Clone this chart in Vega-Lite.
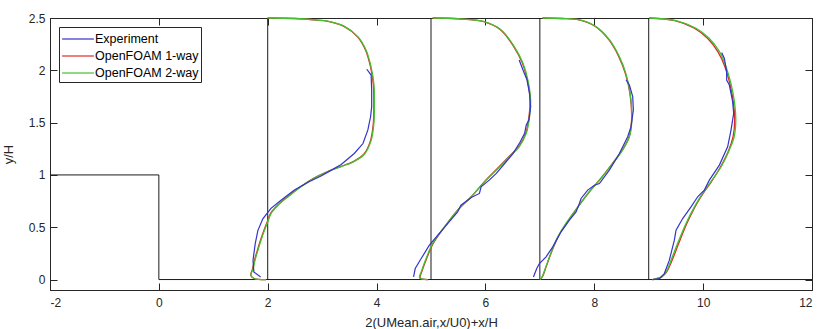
{
  "$schema": "https://vega.github.io/schema/vega-lite/v6.json",
  "width": 762,
  "height": 272,
  "autosize": {"type": "none"},
  "padding": {"left": 50, "top": 18, "right": 8, "bottom": 39},
  "background": "white",
  "config": {
    "view": {"stroke": "#262626", "strokeWidth": 1},
    "font": "Liberation Sans",
    "axis": {
      "domainColor": "#262626",
      "domainWidth": 1,
      "tickColor": "#262626",
      "tickSize": -7,
      "tickWidth": 1,
      "labelColor": "#262626",
      "labelFont": "Liberation Sans",
      "labelFontSize": 12,
      "titleFont": "Liberation Sans",
      "titleFontSize": 13,
      "titleFontWeight": "normal",
      "titleColor": "#262626",
      "grid": false
    },
    "legend": {
      "orient": "top-left",
      "offset": 9,
      "padding": 2,
      "strokeColor": "#262626",
      "fillColor": "white",
      "symbolType": "M-1.75,0H1.75",
      "symbolSize": 330,
      "symbolOffset": 7,
      "symbolStrokeWidth": 1.2,
      "labelFont": "Liberation Sans",
      "labelFontSize": 12.5,
      "labelColor": "black",
      "labelOffset": 7,
      "rowPadding": 0
    }
  },
  "datasets": {
    "profiles": [
      {"s": "OpenFOAM 1-way", "p": "a", "x": 2.0, "y": 2.5},
      {"s": "OpenFOAM 1-way", "p": "a", "x": 2.5, "y": 2.495},
      {"s": "OpenFOAM 1-way", "p": "a", "x": 2.9, "y": 2.48},
      {"s": "OpenFOAM 1-way", "p": "a", "x": 3.09, "y": 2.47},
      {"s": "OpenFOAM 1-way", "p": "a", "x": 3.4, "y": 2.42},
      {"s": "OpenFOAM 1-way", "p": "a", "x": 3.65, "y": 2.32},
      {"s": "OpenFOAM 1-way", "p": "a", "x": 3.8, "y": 2.19},
      {"s": "OpenFOAM 1-way", "p": "a", "x": 3.89, "y": 2.03},
      {"s": "OpenFOAM 1-way", "p": "a", "x": 3.94, "y": 1.87},
      {"s": "OpenFOAM 1-way", "p": "a", "x": 3.95, "y": 1.68},
      {"s": "OpenFOAM 1-way", "p": "a", "x": 3.94, "y": 1.49},
      {"s": "OpenFOAM 1-way", "p": "a", "x": 3.89, "y": 1.33},
      {"s": "OpenFOAM 1-way", "p": "a", "x": 3.77, "y": 1.2},
      {"s": "OpenFOAM 1-way", "p": "a", "x": 3.58, "y": 1.13},
      {"s": "OpenFOAM 1-way", "p": "a", "x": 3.34, "y": 1.08},
      {"s": "OpenFOAM 1-way", "p": "a", "x": 3.09, "y": 1.03},
      {"s": "OpenFOAM 1-way", "p": "a", "x": 2.85, "y": 0.97},
      {"s": "OpenFOAM 1-way", "p": "a", "x": 2.61, "y": 0.89},
      {"s": "OpenFOAM 1-way", "p": "a", "x": 2.36, "y": 0.79},
      {"s": "OpenFOAM 1-way", "p": "a", "x": 2.18, "y": 0.71},
      {"s": "OpenFOAM 1-way", "p": "a", "x": 2.05, "y": 0.63},
      {"s": "OpenFOAM 1-way", "p": "a", "x": 1.99, "y": 0.55},
      {"s": "OpenFOAM 1-way", "p": "a", "x": 1.93, "y": 0.47},
      {"s": "OpenFOAM 1-way", "p": "a", "x": 1.87, "y": 0.38},
      {"s": "OpenFOAM 1-way", "p": "a", "x": 1.81, "y": 0.28},
      {"s": "OpenFOAM 1-way", "p": "a", "x": 1.76, "y": 0.19},
      {"s": "OpenFOAM 1-way", "p": "a", "x": 1.72, "y": 0.1},
      {"s": "OpenFOAM 1-way", "p": "a", "x": 1.69, "y": 0.04},
      {"s": "OpenFOAM 1-way", "p": "a", "x": 1.75, "y": 0.01},
      {"s": "OpenFOAM 1-way", "p": "a", "x": 1.97, "y": 0.0},

      {"s": "OpenFOAM 1-way", "p": "b", "x": 5.03, "y": 2.5},
      {"s": "OpenFOAM 1-way", "p": "b", "x": 5.5, "y": 2.493},
      {"s": "OpenFOAM 1-way", "p": "b", "x": 5.97, "y": 2.465},
      {"s": "OpenFOAM 1-way", "p": "b", "x": 6.28, "y": 2.386},
      {"s": "OpenFOAM 1-way", "p": "b", "x": 6.52, "y": 2.226},
      {"s": "OpenFOAM 1-way", "p": "b", "x": 6.68, "y": 2.067},
      {"s": "OpenFOAM 1-way", "p": "b", "x": 6.77, "y": 1.907},
      {"s": "OpenFOAM 1-way", "p": "b", "x": 6.82, "y": 1.716},
      {"s": "OpenFOAM 1-way", "p": "b", "x": 6.8, "y": 1.556},
      {"s": "OpenFOAM 1-way", "p": "b", "x": 6.74, "y": 1.397},
      {"s": "OpenFOAM 1-way", "p": "b", "x": 6.61, "y": 1.269},
      {"s": "OpenFOAM 1-way", "p": "b", "x": 6.43, "y": 1.174},
      {"s": "OpenFOAM 1-way", "p": "b", "x": 6.22, "y": 1.062},
      {"s": "OpenFOAM 1-way", "p": "b", "x": 5.98, "y": 0.934},
      {"s": "OpenFOAM 1-way", "p": "b", "x": 5.74, "y": 0.791},
      {"s": "OpenFOAM 1-way", "p": "b", "x": 5.49, "y": 0.663},
      {"s": "OpenFOAM 1-way", "p": "b", "x": 5.25, "y": 0.504},
      {"s": "OpenFOAM 1-way", "p": "b", "x": 5.04, "y": 0.344},
      {"s": "OpenFOAM 1-way", "p": "b", "x": 4.92, "y": 0.201},
      {"s": "OpenFOAM 1-way", "p": "b", "x": 4.83, "y": 0.073},
      {"s": "OpenFOAM 1-way", "p": "b", "x": 4.8, "y": 0.016},
      {"s": "OpenFOAM 1-way", "p": "b", "x": 4.94, "y": 0.0},

      {"s": "OpenFOAM 1-way", "p": "c", "x": 7.05, "y": 2.5},
      {"s": "OpenFOAM 1-way", "p": "c", "x": 7.4, "y": 2.495},
      {"s": "OpenFOAM 1-way", "p": "c", "x": 7.72, "y": 2.481},
      {"s": "OpenFOAM 1-way", "p": "c", "x": 8.02, "y": 2.418},
      {"s": "OpenFOAM 1-way", "p": "c", "x": 8.27, "y": 2.29},
      {"s": "OpenFOAM 1-way", "p": "c", "x": 8.45, "y": 2.131},
      {"s": "OpenFOAM 1-way", "p": "c", "x": 8.57, "y": 1.971},
      {"s": "OpenFOAM 1-way", "p": "c", "x": 8.655, "y": 1.78},
      {"s": "OpenFOAM 1-way", "p": "c", "x": 8.685, "y": 1.524},
      {"s": "OpenFOAM 1-way", "p": "c", "x": 8.64, "y": 1.365},
      {"s": "OpenFOAM 1-way", "p": "c", "x": 8.515, "y": 1.237},
      {"s": "OpenFOAM 1-way", "p": "c", "x": 8.335, "y": 1.11},
      {"s": "OpenFOAM 1-way", "p": "c", "x": 8.12, "y": 0.966},
      {"s": "OpenFOAM 1-way", "p": "c", "x": 7.91, "y": 0.839},
      {"s": "OpenFOAM 1-way", "p": "c", "x": 7.7, "y": 0.695},
      {"s": "OpenFOAM 1-way", "p": "c", "x": 7.485, "y": 0.536},
      {"s": "OpenFOAM 1-way", "p": "c", "x": 7.335, "y": 0.408},
      {"s": "OpenFOAM 1-way", "p": "c", "x": 7.215, "y": 0.264},
      {"s": "OpenFOAM 1-way", "p": "c", "x": 7.115, "y": 0.121},
      {"s": "OpenFOAM 1-way", "p": "c", "x": 7.045, "y": 0.025},
      {"s": "OpenFOAM 1-way", "p": "c", "x": 7.0, "y": 0.0},

      {"s": "OpenFOAM 1-way", "p": "d", "x": 9.01, "y": 2.5},
      {"s": "OpenFOAM 1-way", "p": "d", "x": 9.48, "y": 2.475},
      {"s": "OpenFOAM 1-way", "p": "d", "x": 9.84, "y": 2.402},
      {"s": "OpenFOAM 1-way", "p": "d", "x": 10.08, "y": 2.306},
      {"s": "OpenFOAM 1-way", "p": "d", "x": 10.27, "y": 2.178},
      {"s": "OpenFOAM 1-way", "p": "d", "x": 10.4, "y": 2.035},
      {"s": "OpenFOAM 1-way", "p": "d", "x": 10.49, "y": 1.875},
      {"s": "OpenFOAM 1-way", "p": "d", "x": 10.55, "y": 1.716},
      {"s": "OpenFOAM 1-way", "p": "d", "x": 10.58, "y": 1.524},
      {"s": "OpenFOAM 1-way", "p": "d", "x": 10.55, "y": 1.365},
      {"s": "OpenFOAM 1-way", "p": "d", "x": 10.47, "y": 1.237},
      {"s": "OpenFOAM 1-way", "p": "d", "x": 10.32, "y": 1.078},
      {"s": "OpenFOAM 1-way", "p": "d", "x": 10.15, "y": 0.934},
      {"s": "OpenFOAM 1-way", "p": "d", "x": 10.0, "y": 0.823},
      {"s": "OpenFOAM 1-way", "p": "d", "x": 9.85, "y": 0.695},
      {"s": "OpenFOAM 1-way", "p": "d", "x": 9.7, "y": 0.536},
      {"s": "OpenFOAM 1-way", "p": "d", "x": 9.55, "y": 0.344},
      {"s": "OpenFOAM 1-way", "p": "d", "x": 9.43, "y": 0.185},
      {"s": "OpenFOAM 1-way", "p": "d", "x": 9.33, "y": 0.073},
      {"s": "OpenFOAM 1-way", "p": "d", "x": 9.24, "y": 0.025},
      {"s": "OpenFOAM 1-way", "p": "d", "x": 9.07, "y": 0.0},

      {"s": "OpenFOAM 2-way", "p": "a", "x": 2.0, "y": 2.5},
      {"s": "OpenFOAM 2-way", "p": "a", "x": 2.5, "y": 2.495},
      {"s": "OpenFOAM 2-way", "p": "a", "x": 2.92, "y": 2.48},
      {"s": "OpenFOAM 2-way", "p": "a", "x": 3.1, "y": 2.47},
      {"s": "OpenFOAM 2-way", "p": "a", "x": 3.41, "y": 2.42},
      {"s": "OpenFOAM 2-way", "p": "a", "x": 3.66, "y": 2.32},
      {"s": "OpenFOAM 2-way", "p": "a", "x": 3.81, "y": 2.19},
      {"s": "OpenFOAM 2-way", "p": "a", "x": 3.9, "y": 2.03},
      {"s": "OpenFOAM 2-way", "p": "a", "x": 3.95, "y": 1.87},
      {"s": "OpenFOAM 2-way", "p": "a", "x": 3.96, "y": 1.68},
      {"s": "OpenFOAM 2-way", "p": "a", "x": 3.95, "y": 1.49},
      {"s": "OpenFOAM 2-way", "p": "a", "x": 3.9, "y": 1.33},
      {"s": "OpenFOAM 2-way", "p": "a", "x": 3.78, "y": 1.2},
      {"s": "OpenFOAM 2-way", "p": "a", "x": 3.59, "y": 1.13},
      {"s": "OpenFOAM 2-way", "p": "a", "x": 3.35, "y": 1.08},
      {"s": "OpenFOAM 2-way", "p": "a", "x": 3.1, "y": 1.03},
      {"s": "OpenFOAM 2-way", "p": "a", "x": 2.86, "y": 0.97},
      {"s": "OpenFOAM 2-way", "p": "a", "x": 2.62, "y": 0.89},
      {"s": "OpenFOAM 2-way", "p": "a", "x": 2.37, "y": 0.79},
      {"s": "OpenFOAM 2-way", "p": "a", "x": 2.19, "y": 0.71},
      {"s": "OpenFOAM 2-way", "p": "a", "x": 2.06, "y": 0.63},
      {"s": "OpenFOAM 2-way", "p": "a", "x": 2.0, "y": 0.55},
      {"s": "OpenFOAM 2-way", "p": "a", "x": 1.94, "y": 0.47},
      {"s": "OpenFOAM 2-way", "p": "a", "x": 1.88, "y": 0.38},
      {"s": "OpenFOAM 2-way", "p": "a", "x": 1.82, "y": 0.28},
      {"s": "OpenFOAM 2-way", "p": "a", "x": 1.77, "y": 0.19},
      {"s": "OpenFOAM 2-way", "p": "a", "x": 1.73, "y": 0.1},
      {"s": "OpenFOAM 2-way", "p": "a", "x": 1.69, "y": 0.04},
      {"s": "OpenFOAM 2-way", "p": "a", "x": 1.75, "y": 0.01},
      {"s": "OpenFOAM 2-way", "p": "a", "x": 1.97, "y": 0.0},

      {"s": "OpenFOAM 2-way", "p": "b", "x": 5.03, "y": 2.5},
      {"s": "OpenFOAM 2-way", "p": "b", "x": 5.5, "y": 2.493},
      {"s": "OpenFOAM 2-way", "p": "b", "x": 5.98, "y": 2.465},
      {"s": "OpenFOAM 2-way", "p": "b", "x": 6.29, "y": 2.386},
      {"s": "OpenFOAM 2-way", "p": "b", "x": 6.53, "y": 2.226},
      {"s": "OpenFOAM 2-way", "p": "b", "x": 6.69, "y": 2.067},
      {"s": "OpenFOAM 2-way", "p": "b", "x": 6.78, "y": 1.907},
      {"s": "OpenFOAM 2-way", "p": "b", "x": 6.83, "y": 1.716},
      {"s": "OpenFOAM 2-way", "p": "b", "x": 6.81, "y": 1.556},
      {"s": "OpenFOAM 2-way", "p": "b", "x": 6.75, "y": 1.397},
      {"s": "OpenFOAM 2-way", "p": "b", "x": 6.62, "y": 1.269},
      {"s": "OpenFOAM 2-way", "p": "b", "x": 6.44, "y": 1.174},
      {"s": "OpenFOAM 2-way", "p": "b", "x": 6.23, "y": 1.062},
      {"s": "OpenFOAM 2-way", "p": "b", "x": 5.98, "y": 0.934},
      {"s": "OpenFOAM 2-way", "p": "b", "x": 5.74, "y": 0.791},
      {"s": "OpenFOAM 2-way", "p": "b", "x": 5.49, "y": 0.663},
      {"s": "OpenFOAM 2-way", "p": "b", "x": 5.25, "y": 0.504},
      {"s": "OpenFOAM 2-way", "p": "b", "x": 5.03, "y": 0.344},
      {"s": "OpenFOAM 2-way", "p": "b", "x": 4.91, "y": 0.201},
      {"s": "OpenFOAM 2-way", "p": "b", "x": 4.82, "y": 0.073},
      {"s": "OpenFOAM 2-way", "p": "b", "x": 4.79, "y": 0.016},
      {"s": "OpenFOAM 2-way", "p": "b", "x": 4.94, "y": 0.0},

      {"s": "OpenFOAM 2-way", "p": "c", "x": 7.05, "y": 2.5},
      {"s": "OpenFOAM 2-way", "p": "c", "x": 7.4, "y": 2.495},
      {"s": "OpenFOAM 2-way", "p": "c", "x": 7.73, "y": 2.481},
      {"s": "OpenFOAM 2-way", "p": "c", "x": 8.03, "y": 2.418},
      {"s": "OpenFOAM 2-way", "p": "c", "x": 8.28, "y": 2.29},
      {"s": "OpenFOAM 2-way", "p": "c", "x": 8.46, "y": 2.131},
      {"s": "OpenFOAM 2-way", "p": "c", "x": 8.58, "y": 1.971},
      {"s": "OpenFOAM 2-way", "p": "c", "x": 8.66, "y": 1.78},
      {"s": "OpenFOAM 2-way", "p": "c", "x": 8.69, "y": 1.524},
      {"s": "OpenFOAM 2-way", "p": "c", "x": 8.645, "y": 1.365},
      {"s": "OpenFOAM 2-way", "p": "c", "x": 8.52, "y": 1.237},
      {"s": "OpenFOAM 2-way", "p": "c", "x": 8.34, "y": 1.11},
      {"s": "OpenFOAM 2-way", "p": "c", "x": 8.12, "y": 0.966},
      {"s": "OpenFOAM 2-way", "p": "c", "x": 7.91, "y": 0.839},
      {"s": "OpenFOAM 2-way", "p": "c", "x": 7.7, "y": 0.695},
      {"s": "OpenFOAM 2-way", "p": "c", "x": 7.48, "y": 0.536},
      {"s": "OpenFOAM 2-way", "p": "c", "x": 7.33, "y": 0.408},
      {"s": "OpenFOAM 2-way", "p": "c", "x": 7.21, "y": 0.264},
      {"s": "OpenFOAM 2-way", "p": "c", "x": 7.11, "y": 0.121},
      {"s": "OpenFOAM 2-way", "p": "c", "x": 7.04, "y": 0.025},
      {"s": "OpenFOAM 2-way", "p": "c", "x": 7.0, "y": 0.0},

      {"s": "OpenFOAM 2-way", "p": "d", "x": 9.01, "y": 2.5},
      {"s": "OpenFOAM 2-way", "p": "d", "x": 9.5, "y": 2.475},
      {"s": "OpenFOAM 2-way", "p": "d", "x": 9.87, "y": 2.402},
      {"s": "OpenFOAM 2-way", "p": "d", "x": 10.11, "y": 2.306},
      {"s": "OpenFOAM 2-way", "p": "d", "x": 10.3, "y": 2.178},
      {"s": "OpenFOAM 2-way", "p": "d", "x": 10.42, "y": 2.035},
      {"s": "OpenFOAM 2-way", "p": "d", "x": 10.51, "y": 1.875},
      {"s": "OpenFOAM 2-way", "p": "d", "x": 10.57, "y": 1.716},
      {"s": "OpenFOAM 2-way", "p": "d", "x": 10.6, "y": 1.524},
      {"s": "OpenFOAM 2-way", "p": "d", "x": 10.57, "y": 1.365},
      {"s": "OpenFOAM 2-way", "p": "d", "x": 10.48, "y": 1.237},
      {"s": "OpenFOAM 2-way", "p": "d", "x": 10.33, "y": 1.078},
      {"s": "OpenFOAM 2-way", "p": "d", "x": 10.14, "y": 0.934},
      {"s": "OpenFOAM 2-way", "p": "d", "x": 9.99, "y": 0.823},
      {"s": "OpenFOAM 2-way", "p": "d", "x": 9.84, "y": 0.695},
      {"s": "OpenFOAM 2-way", "p": "d", "x": 9.685, "y": 0.536},
      {"s": "OpenFOAM 2-way", "p": "d", "x": 9.53, "y": 0.344},
      {"s": "OpenFOAM 2-way", "p": "d", "x": 9.41, "y": 0.185},
      {"s": "OpenFOAM 2-way", "p": "d", "x": 9.32, "y": 0.073},
      {"s": "OpenFOAM 2-way", "p": "d", "x": 9.23, "y": 0.025},
      {"s": "OpenFOAM 2-way", "p": "d", "x": 9.07, "y": 0.0},

      {"s": "Experiment", "p": "a", "x": 3.82, "y": 2.01},
      {"s": "Experiment", "p": "a", "x": 3.9, "y": 1.955},
      {"s": "Experiment", "p": "a", "x": 3.91, "y": 1.81},
      {"s": "Experiment", "p": "a", "x": 3.91, "y": 1.65},
      {"s": "Experiment", "p": "a", "x": 3.89, "y": 1.556},
      {"s": "Experiment", "p": "a", "x": 3.84, "y": 1.43},
      {"s": "Experiment", "p": "a", "x": 3.75, "y": 1.3},
      {"s": "Experiment", "p": "a", "x": 3.59, "y": 1.205},
      {"s": "Experiment", "p": "a", "x": 3.35, "y": 1.1},
      {"s": "Experiment", "p": "a", "x": 3.17, "y": 1.046},
      {"s": "Experiment", "p": "a", "x": 2.98, "y": 0.99},
      {"s": "Experiment", "p": "a", "x": 2.74, "y": 0.93},
      {"s": "Experiment", "p": "a", "x": 2.49, "y": 0.855},
      {"s": "Experiment", "p": "a", "x": 2.25, "y": 0.76},
      {"s": "Experiment", "p": "a", "x": 2.06, "y": 0.68},
      {"s": "Experiment", "p": "a", "x": 1.91, "y": 0.58},
      {"s": "Experiment", "p": "a", "x": 1.82, "y": 0.47},
      {"s": "Experiment", "p": "a", "x": 1.77, "y": 0.34},
      {"s": "Experiment", "p": "a", "x": 1.73, "y": 0.185},
      {"s": "Experiment", "p": "a", "x": 1.745, "y": 0.073},
      {"s": "Experiment", "p": "a", "x": 1.87, "y": 0.025},

      {"s": "Experiment", "p": "b", "x": 6.62, "y": 2.099},
      {"s": "Experiment", "p": "b", "x": 6.69, "y": 2.003},
      {"s": "Experiment", "p": "b", "x": 6.765, "y": 1.907},
      {"s": "Experiment", "p": "b", "x": 6.81, "y": 1.78},
      {"s": "Experiment", "p": "b", "x": 6.83, "y": 1.652},
      {"s": "Experiment", "p": "b", "x": 6.8, "y": 1.524},
      {"s": "Experiment", "p": "b", "x": 6.75, "y": 1.477},
      {"s": "Experiment", "p": "b", "x": 6.72, "y": 1.397},
      {"s": "Experiment", "p": "b", "x": 6.64, "y": 1.317},
      {"s": "Experiment", "p": "b", "x": 6.5, "y": 1.199},
      {"s": "Experiment", "p": "b", "x": 6.38, "y": 1.126},
      {"s": "Experiment", "p": "b", "x": 6.2, "y": 1.014},
      {"s": "Experiment", "p": "b", "x": 6.07, "y": 0.95},
      {"s": "Experiment", "p": "b", "x": 5.92, "y": 0.886},
      {"s": "Experiment", "p": "b", "x": 5.89, "y": 0.823},
      {"s": "Experiment", "p": "b", "x": 5.74, "y": 0.785},
      {"s": "Experiment", "p": "b", "x": 5.55, "y": 0.711},
      {"s": "Experiment", "p": "b", "x": 5.49, "y": 0.647},
      {"s": "Experiment", "p": "b", "x": 5.31, "y": 0.536},
      {"s": "Experiment", "p": "b", "x": 5.125, "y": 0.424},
      {"s": "Experiment", "p": "b", "x": 4.97, "y": 0.328},
      {"s": "Experiment", "p": "b", "x": 4.82, "y": 0.201},
      {"s": "Experiment", "p": "b", "x": 4.71, "y": 0.105},
      {"s": "Experiment", "p": "b", "x": 4.68, "y": 0.025},

      {"s": "Experiment", "p": "c", "x": 8.584, "y": 1.907},
      {"s": "Experiment", "p": "c", "x": 8.645, "y": 1.859},
      {"s": "Experiment", "p": "c", "x": 8.706, "y": 1.748},
      {"s": "Experiment", "p": "c", "x": 8.718, "y": 1.62},
      {"s": "Experiment", "p": "c", "x": 8.675, "y": 1.461},
      {"s": "Experiment", "p": "c", "x": 8.614, "y": 1.365},
      {"s": "Experiment", "p": "c", "x": 8.461, "y": 1.205},
      {"s": "Experiment", "p": "c", "x": 8.277, "y": 1.046},
      {"s": "Experiment", "p": "c", "x": 8.094, "y": 0.918},
      {"s": "Experiment", "p": "c", "x": 8.002, "y": 0.902},
      {"s": "Experiment", "p": "c", "x": 7.879, "y": 0.855},
      {"s": "Experiment", "p": "c", "x": 7.757, "y": 0.775},
      {"s": "Experiment", "p": "c", "x": 7.726, "y": 0.727},
      {"s": "Experiment", "p": "c", "x": 7.665, "y": 0.647},
      {"s": "Experiment", "p": "c", "x": 7.543, "y": 0.567},
      {"s": "Experiment", "p": "c", "x": 7.39, "y": 0.456},
      {"s": "Experiment", "p": "c", "x": 7.237, "y": 0.312},
      {"s": "Experiment", "p": "c", "x": 7.114, "y": 0.217},
      {"s": "Experiment", "p": "c", "x": 6.992, "y": 0.153},
      {"s": "Experiment", "p": "c", "x": 6.943, "y": 0.105},
      {"s": "Experiment", "p": "c", "x": 6.882, "y": 0.025},

      {"s": "Experiment", "p": "d", "x": 10.34, "y": 2.169},
      {"s": "Experiment", "p": "d", "x": 10.39, "y": 2.114},
      {"s": "Experiment", "p": "d", "x": 10.432, "y": 1.987},
      {"s": "Experiment", "p": "d", "x": 10.432, "y": 1.907},
      {"s": "Experiment", "p": "d", "x": 10.481, "y": 1.859},
      {"s": "Experiment", "p": "d", "x": 10.542, "y": 1.7},
      {"s": "Experiment", "p": "d", "x": 10.561, "y": 1.588},
      {"s": "Experiment", "p": "d", "x": 10.512, "y": 1.429},
      {"s": "Experiment", "p": "d", "x": 10.45, "y": 1.269},
      {"s": "Experiment", "p": "d", "x": 10.298, "y": 1.094},
      {"s": "Experiment", "p": "d", "x": 10.114, "y": 0.95},
      {"s": "Experiment", "p": "d", "x": 10.022, "y": 0.855},
      {"s": "Experiment", "p": "d", "x": 9.961, "y": 0.823},
      {"s": "Experiment", "p": "d", "x": 9.9, "y": 0.791},
      {"s": "Experiment", "p": "d", "x": 9.777, "y": 0.695},
      {"s": "Experiment", "p": "d", "x": 9.624, "y": 0.583},
      {"s": "Experiment", "p": "d", "x": 9.502, "y": 0.472},
      {"s": "Experiment", "p": "d", "x": 9.471, "y": 0.376},
      {"s": "Experiment", "p": "d", "x": 9.44, "y": 0.312},
      {"s": "Experiment", "p": "d", "x": 9.379, "y": 0.185},
      {"s": "Experiment", "p": "d", "x": 9.287, "y": 0.057},
      {"s": "Experiment", "p": "d", "x": 9.196, "y": 0.009},
      {"s": "Experiment", "p": "d", "x": 9.073, "y": 0.0}
    ],
    "outline": [
      {"x": -2, "y": 1, "x2": 0, "y2": 1},
      {"x": 0, "y": 1, "x2": 0, "y2": 0},
      {"x": 0, "y": 0, "x2": 12, "y2": 0},
      {"x": 2, "y": 0, "x2": 2, "y2": 2.5},
      {"x": 5, "y": 0, "x2": 5, "y2": 2.5},
      {"x": 7, "y": 0, "x2": 7, "y2": 2.5},
      {"x": 9, "y": 0, "x2": 9, "y2": 2.5}
    ]
  },
  "layer": [
    {
      "data": {"name": "outline"},
      "mark": {"type": "rule", "color": "#1a1a1a", "strokeWidth": 1},
      "encoding": {
        "x": {
          "field": "x", "type": "quantitative",
          "scale": {"domain": [-2, 12], "nice": false, "zero": false},
          "axis": {"orient": "top", "values": [-2, 0, 2, 4, 6, 8, 10, 12], "labels": false, "title": null}
        },
        "y": {
          "field": "y", "type": "quantitative",
          "scale": {"domain": [-0.1, 2.5], "nice": false, "zero": false},
          "axis": {"orient": "right", "values": [0, 0.5, 1, 1.5, 2, 2.5], "labels": false, "title": null}
        },
        "x2": {"field": "x2"},
        "y2": {"field": "y2"}
      }
    },
    {
      "data": {"name": "profiles"},
      "transform": [{"filter": "datum.s !== 'Experiment'"}],
      "mark": {"type": "line", "strokeWidth": 1.3, "interpolate": "catmull-rom"},
      "encoding": {
        "x": {
          "field": "x", "type": "quantitative",
          "axis": {
            "orient": "bottom",
            "values": [-2, 0, 2, 4, 6, 8, 10, 12],
            "labelExpr": "'' + datum.value",
            "labelPadding": 14,
            "title": "2(UMean.air,x/U0)+x/H",
            "titlePadding": 8
          }
        },
        "y": {
          "field": "y", "type": "quantitative",
          "axis": {
            "orient": "left",
            "values": [0, 0.5, 1, 1.5, 2, 2.5],
            "labelExpr": "'' + datum.value",
            "labelPadding": 12,
            "title": "y/H",
            "titlePadding": 13
          }
        },
        "color": {
          "field": "s", "type": "nominal",
          "scale": {
            "domain": ["Experiment", "OpenFOAM 1-way", "OpenFOAM 2-way"],
            "range": ["#3333cc", "#e02828", "#44c030"]
          },
          "legend": {"title": null}
        },
        "detail": {"field": "p"},
        "order": {"field": "y", "sort": "descending"}
      }
    },
    {
      "data": {"name": "profiles"},
      "transform": [{"filter": "datum.s === 'Experiment'"}],
      "mark": {"type": "line", "strokeWidth": 1.2, "interpolate": "linear"},
      "encoding": {
        "x": {"field": "x", "type": "quantitative", "axis": null},
        "y": {"field": "y", "type": "quantitative", "axis": null},
        "color": {"field": "s", "type": "nominal", "legend": {"title": null}},
        "detail": {"field": "p"},
        "order": {"field": "y", "sort": "descending"}
      }
    }
  ],
  "resolve": {"axis": {"x": "independent", "y": "independent"}}
}
